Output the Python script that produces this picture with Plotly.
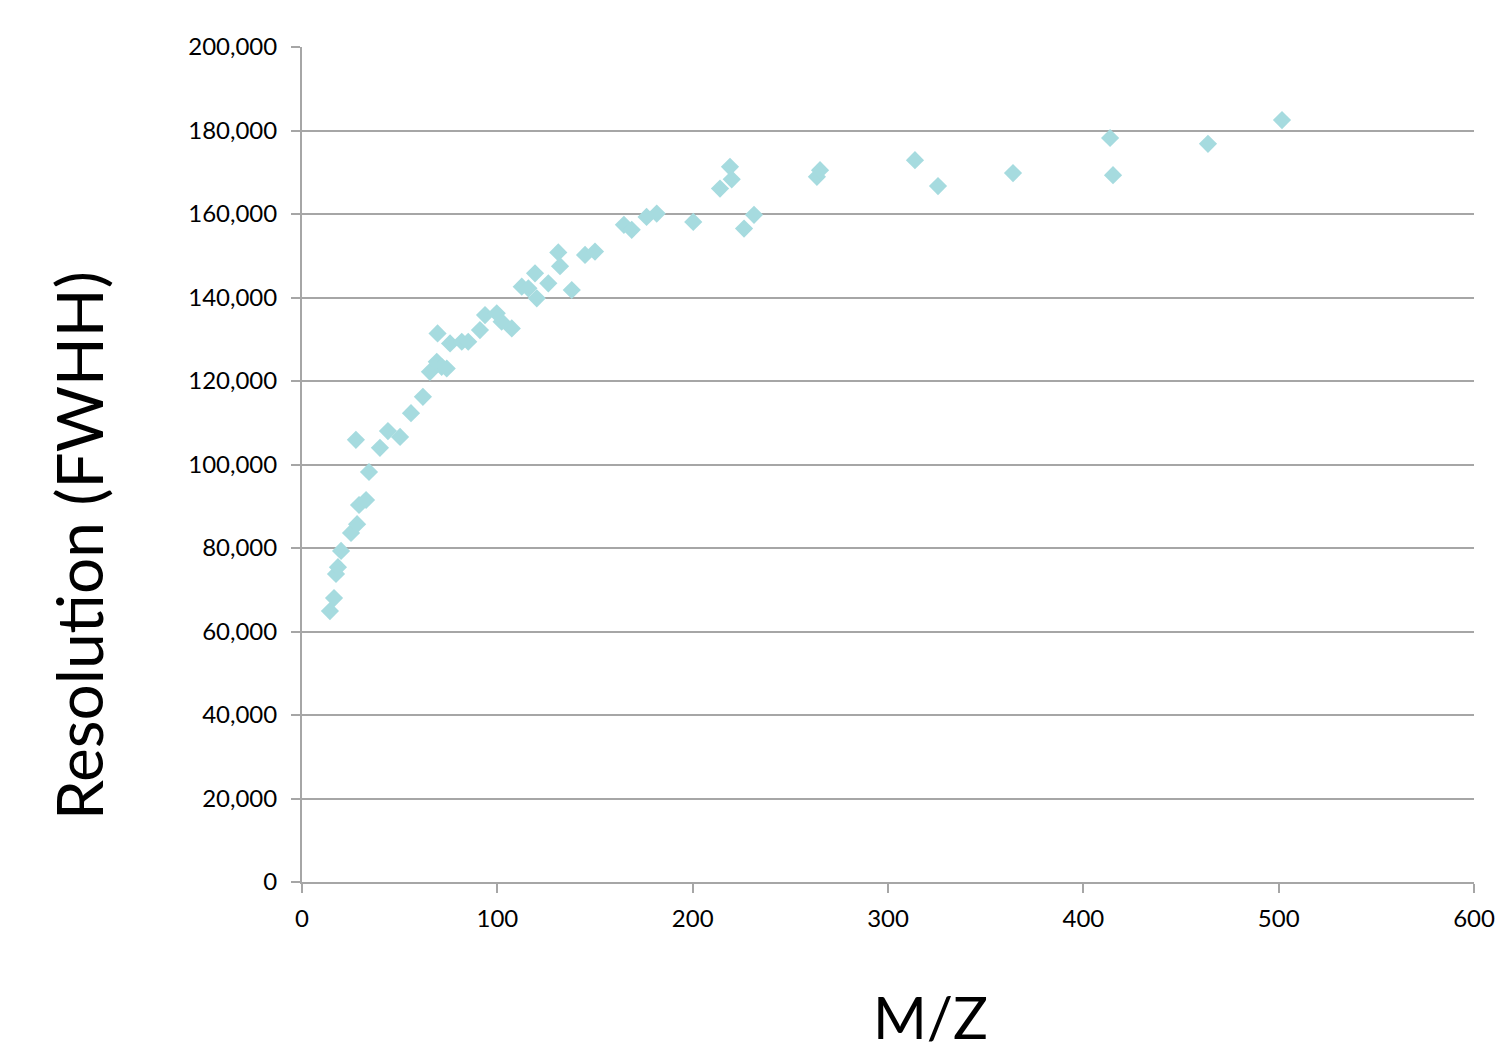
import plotly.graph_objects as go

mz = [14.3, 16.4, 17.4, 18.4, 20.0, 25.1, 28.2, 27.6, 29.2, 32.8, 34.3, 39.9, 44.0, 50.2,
      55.8, 61.9, 65.5, 69.0, 71.5, 74.1, 69.4, 75.8, 81.8, 85.1, 91.1, 93.7, 99.7, 102.2,
      107.4, 112.5, 115.9, 119.3, 120.2, 126.1, 131.2, 132.1, 138.1, 144.9, 150.0,
      164.8, 168.8, 176.4, 181.6, 200.3, 214.0, 220.0, 219.1, 226.3, 231.4,
      263.6, 265.2, 313.8, 325.6, 364.0, 413.7, 415.2, 463.8, 501.7]
resolution = [64900, 68000, 73800, 75400, 79300, 83600, 85700, 105900, 90300, 91500, 98200,
              104000, 108000, 106600, 112300, 116200, 122200, 124600, 123400, 123000,
              131400, 129000, 129400, 129400, 132200, 135800, 136200, 134200, 132600,
              142600, 142200, 145800, 139800, 143400, 150800, 147500, 141800, 150200, 151000,
              157400, 156200, 159300, 160100, 158100, 166100, 168300, 171300, 156500, 159800,
              168900, 170500, 172900, 166700, 169800, 178200, 169300, 176800, 182500]

x_ticks = [0, 100, 200, 300, 400, 500, 600]
y_ticks = list(range(0, 200001, 20000))
y_tick_labels = [f"{v:,}" for v in y_ticks]

font_family = "Lato, 'Open Sans', sans-serif"

fig = go.Figure(go.Scatter(
    x=mz, y=resolution, mode="markers",
    marker=dict(symbol="diamond", size=14, color="#a6dbdf"),
    showlegend=False,
))

fig.update_layout(
    width=1495, height=1055,
    margin=dict(l=302, r=21, t=47, b=173),
    paper_bgcolor="white", plot_bgcolor="white",
    font=dict(family=font_family, color="black", size=24),
)
fig.update_xaxes(
    range=[0, 600], tickvals=x_ticks, ticktext=[str(v) for v in x_ticks],
    showgrid=False, zeroline=False, showline=True, linecolor="#a6a6a6", linewidth=2,
    ticks="outside", ticklen=9, tickcolor="#a6a6a6", tickwidth=2,
    tickfont=dict(size=24, family=font_family), ticklabelstandoff=5,
    automargin=False,
)
fig.update_yaxes(
    range=[0, 200000], tickvals=y_ticks, ticktext=y_tick_labels,
    showgrid=True, gridcolor="#a6a6a6", gridwidth=1.5, zeroline=False,
    showline=True, linecolor="#a6a6a6", linewidth=2,
    ticks="outside", ticklen=9, tickcolor="#a6a6a6", tickwidth=2,
    tickfont=dict(size=24, family=font_family), ticklabelstandoff=9,
    automargin=False,
)
fig.add_annotation(
    text="M/Z", xref="paper", yref="paper", x=(930 - 302) / (1474 - 302), y=-(1016 - 882) / (882 - 47),
    showarrow=False, font=dict(size=58, family=font_family, color="black"),
    xanchor="center", yanchor="middle",
)
fig.add_annotation(
    text="Resolution (FWHH)", xref="paper", yref="paper", x=-(302 - 78) / (1474 - 302),
    y=(882 - 545) / (882 - 47), textangle=-90,
    showarrow=False, font=dict(size=64, family=font_family, color="black"),
    xanchor="center", yanchor="middle",
)

fig.write_html("out.html")
